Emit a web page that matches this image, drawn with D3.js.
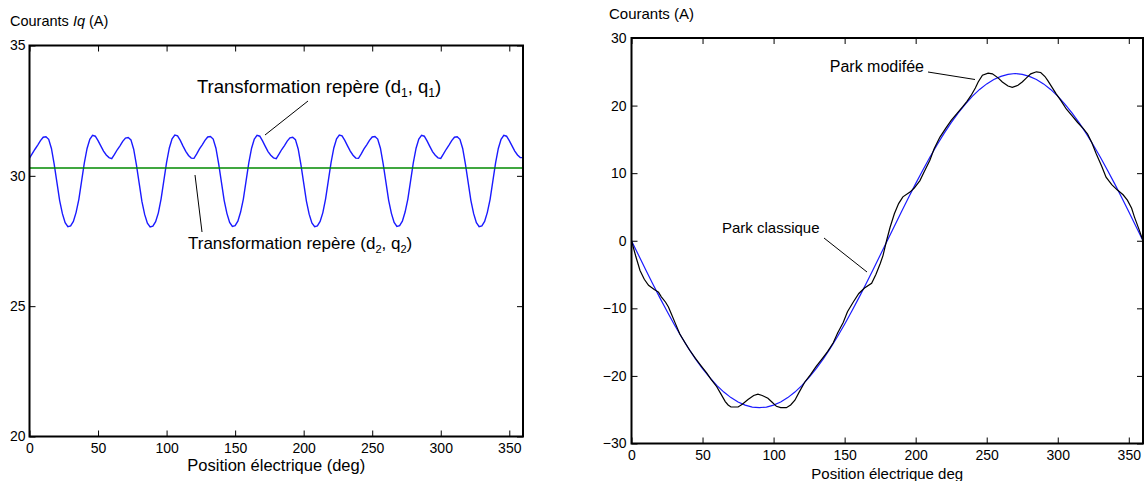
<!DOCTYPE html>
<html><head><meta charset="utf-8">
<script src="https://cdn.jsdelivr.net/npm/d3@7"></script>
<style>
body{margin:0;background:#fff}
svg{display:block}
text{font-family:"Liberation Sans",Arial,Helvetica,sans-serif;fill:#000}
</style>
</head><body>
<svg id="c" width="1145" height="481"></svg>
<script>
// ---------- data ----------
const xTicks = [0, 50, 100, 150, 200, 250, 300, 350];
const leftYTicks = [20, 25, 30, 35];
const rightYTicks = [-30, -20, -10, 0, 10, 20, 30];

// Left: Iq, transformation (d1,q1), sampled every 2 deg from 0 to 360
const leftStep = 2;
const leftIq = [
 30.68,30.85,31.02,31.18,31.35,31.48,31.50,31.40,31.05,30.45,29.75,29.05,28.55,28.20,28.05,28.08,28.25,28.60,29.10,29.80,30.50,31.05,31.40,31.55,31.52,31.35,31.15,30.95,30.80,30.70,
 30.66,30.82,31.00,31.15,31.32,31.45,31.47,31.38,31.02,30.42,29.72,29.02,28.52,28.18,28.04,28.07,28.24,28.58,29.12,29.82,30.52,31.07,31.42,31.56,31.53,31.36,31.14,30.94,30.78,30.68,
 30.67,30.84,31.03,31.19,31.36,31.49,31.51,31.41,31.06,30.46,29.76,29.06,28.56,28.21,28.06,28.09,28.26,28.61,29.11,29.81,30.51,31.06,31.41,31.55,31.52,31.34,31.13,30.93,30.79,30.69,
 30.66,30.83,31.01,31.16,31.33,31.46,31.48,31.39,31.03,30.43,29.73,29.03,28.53,28.19,28.05,28.08,28.25,28.59,29.12,29.82,30.52,31.07,31.42,31.56,31.53,31.36,31.15,30.95,30.79,30.68,
 30.67,30.84,31.03,31.19,31.36,31.49,31.51,31.41,31.06,30.46,29.76,29.06,28.56,28.21,28.06,28.09,28.26,28.61,29.11,29.81,30.51,31.06,31.41,31.55,31.52,31.34,31.13,30.93,30.79,30.69,
 30.67,30.84,31.02,31.18,31.35,31.48,31.50,31.40,31.05,30.45,29.75,29.05,28.55,28.20,28.05,28.08,28.25,28.60,29.10,29.80,30.50,31.05,31.40,31.55,31.52,31.35,31.15,30.95,30.80,30.70,
 30.70
];
// Left: Iq, transformation (d2,q2)
const refAngles = [0, 360];
const refIq = [30.3, 30.3];

// Right: Park classique (blue), every 5 deg
const blueStep = 5;
const blueVals = [
 0,-2.15,-4.29,-6.39,-8.45,-10.44,-12.35,-14.17,-15.88,-17.47,-18.92,-20.23,-21.39,-22.39,-23.21,-23.86,-24.32,-24.61,-24.68,
 -24.61,-24.32,-23.86,-23.21,-22.39,-21.39,-20.23,-18.92,-17.47,-15.88,-14.17,-12.35,-10.44,-8.45,-6.39,-4.29,-2.15,
 0,2.15,4.29,6.39,8.45,10.44,12.35,14.17,15.88,17.47,18.92,20.23,21.39,22.39,23.21,23.86,24.32,24.61,24.75,
 24.61,24.32,23.86,23.21,22.39,21.39,20.23,18.92,17.47,15.88,14.17,12.35,10.44,8.45,6.39,4.29,2.15,0
];
// Right: Park modifiée (black)
const blackAngles = [0,3,6,9,12,16,19,21,24,26,28,31,34,38,41,45,49,53,56,60,63,66,68,70,75,78,82,86,89,92,96,99,102,105,109,112,115,118,122,126,130,134,138,142,145,149,152,156,160,164,169,172,175,177,179.5,182,185,188,191,196,199,203,206,210,213,217,221,225,229,233,236,239,242,244,247,251,254,258,261,265,268,272,275,278,281,285,288,291,293,296,299,302,306,310,314,318,321,324,327,331,334,338,342,346,349,352,354,357,360];
const blackVals = [0,-2.3,-4.4,-5.7,-6.6,-7.2,-7.6,-8.3,-9.1,-9.8,-10.8,-12.3,-13.8,-15.2,-16.2,-17.4,-18.5,-19.6,-20.5,-21.6,-22.7,-23.8,-24.3,-24.6,-24.6,-24.2,-23.5,-22.9,-22.7,-22.9,-23.3,-23.9,-24.5,-24.7,-24.7,-24.3,-23.6,-22.4,-20.9,-19.8,-18.6,-17.5,-16.4,-15.1,-13.7,-12.1,-10.5,-9.1,-7.8,-7.0,-6.3,-5.0,-3.4,-2.2,0,2.0,4.0,5.5,6.5,7.2,7.8,8.9,10.2,11.9,13.6,15.3,16.6,17.8,18.8,19.8,20.6,21.5,22.6,23.5,24.5,24.8,24.7,24.1,23.5,22.9,22.7,23.0,23.5,24.1,24.7,25.0,24.9,24.3,23.7,22.7,21.7,20.8,19.5,18.5,17.5,16.6,15.8,14.5,12.9,11.0,9.4,8.3,7.5,6.8,6.0,4.8,3.5,1.8,0];

// ---------- drawing ----------
const svg = d3.select("#c");
const FONT = '"Liberation Sans",Arial,Helvetica,sans-serif';

function panel(box, yDomain, yTicks, labPad) {
  const x = d3.scaleLinear().domain([0, 360]).range([box.x0, box.x1]);
  const y = d3.scaleLinear().domain(yDomain).range([box.y1, box.y0]);
  const g = svg.append("g");
  const style = sel => {
    sel.select(".domain").remove();
    sel.selectAll("line").attr("stroke", "#000").attr("stroke-width", 1);
    sel.selectAll("text").attr("font-size", 14).attr("font-family", FONT).attr("fill", "#000");
  };
  g.append("g").attr("transform", `translate(0,${box.y1})`)
    .call(d3.axisBottom(x).tickValues(xTicks).tickSize(-6).tickPadding(7).tickFormat(d3.format("d"))).call(style);
  g.append("g").attr("transform", `translate(0,${box.y0})`)
    .call(d3.axisTop(x).tickValues(xTicks).tickSize(-6).tickFormat("")).call(style);
  g.append("g").attr("transform", `translate(${box.x0},0)`)
    .call(d3.axisLeft(y).tickValues(yTicks).tickSize(-6).tickPadding(labPad).tickFormat(d3.format("d"))).call(style);
  g.append("g").attr("transform", `translate(${box.x1},0)`)
    .call(d3.axisRight(y).tickValues(yTicks).tickSize(-6).tickFormat("")).call(style);
  return {x, y, g};
}

// Left panel
const L = {x0: 29.5, x1: 523, y0: 45.5, y1: 436.5};
const pl = panel(L, [20, 35], leftYTicks, 4);
const lineL = d3.line().x((d, i) => pl.x(i * leftStep)).y(d => pl.y(d));
svg.append("path").datum(leftIq).attr("d", lineL)
  .attr("fill", "none").attr("stroke", "#1a1aff").attr("stroke-width", 1.4);
svg.append("path").datum(refIq).attr("d", d3.line().x((d, i) => pl.x(refAngles[i])).y(d => pl.y(d)))
  .attr("fill", "none").attr("stroke", "#008a00").attr("stroke-width", 1.6);
svg.append("rect").attr("x", L.x0).attr("y", L.y0).attr("width", L.x1 - L.x0).attr("height", L.y1 - L.y0)
  .attr("fill", "none").attr("stroke", "#000").attr("stroke-width", 2);

// Right panel
const R = {x0: 631.5, x1: 1143, y0: 38, y1: 443.5};
const pr = panel(R, [-30, 30], rightYTicks, 5);
svg.append("path").datum(blueVals)
  .attr("d", d3.line().x((d, i) => pr.x(i * blueStep)).y(d => pr.y(d)))
  .attr("fill", "none").attr("stroke", "#1a1aff").attr("stroke-width", 1.2);
svg.append("path").datum(blackVals)
  .attr("d", d3.line().x((d, i) => pr.x(blackAngles[i])).y(d => pr.y(d)))
  .attr("fill", "none").attr("stroke", "#000").attr("stroke-width", 1.2);
svg.append("rect").attr("x", R.x0).attr("y", R.y0).attr("width", R.x1 - R.x0).attr("height", R.y1 - R.y0)
  .attr("fill", "none").attr("stroke", "#000").attr("stroke-width", 2);

// Titles
const t1 = svg.append("text").attr("x", 10).attr("y", 26).attr("font-size", 14.5);
t1.append("tspan").text("Courants ");
t1.append("tspan").attr("font-style", "italic").text("Iq");
t1.append("tspan").text(" (A)");
svg.append("text").attr("x", 609).attr("y", 19).attr("font-size", 15).text("Courants (A)");

svg.append("text").attr("x", (L.x0 + L.x1) / 2).attr("y", 471).attr("text-anchor", "middle")
  .attr("font-size", 16.5).text("Position électrique (deg)");
svg.append("text").attr("x", (R.x0 + R.x1) / 2).attr("y", 479).attr("text-anchor", "middle")
  .attr("font-size", 15).text("Position électrique deg");

// Annotations
function subText(x, y, size, n) {
  const t = svg.append("text").attr("x", x).attr("y", y).attr("font-size", size);
  t.append("tspan").text("Transformation repère (d");
  t.append("tspan").attr("font-size", size * 0.65).attr("dy", 4).text(n);
  t.append("tspan").attr("dy", -4).text(", q");
  t.append("tspan").attr("font-size", size * 0.65).attr("dy", 4).text(n);
  t.append("tspan").attr("dy", -4).text(")");
}
subText(197, 93, 18.5, "1");
subText(188, 249, 17, "2");
const leader = (x1, y1, x2, y2) => svg.append("line").attr("x1", x1).attr("y1", y1).attr("x2", x2).attr("y2", y2)
  .attr("stroke", "#000").attr("stroke-width", 1);
leader(308, 101, 265, 135);
leader(195, 175, 202, 232);

svg.append("text").attr("x", 924).attr("y", 72).attr("text-anchor", "end").attr("font-size", 16).text("Park modifée");
leader(928, 72, 975, 79.5);
svg.append("text").attr("x", 722).attr("y", 232.5).attr("font-size", 15).text("Park classique");
leader(824, 238, 867, 272);
</script>
</body></html>
